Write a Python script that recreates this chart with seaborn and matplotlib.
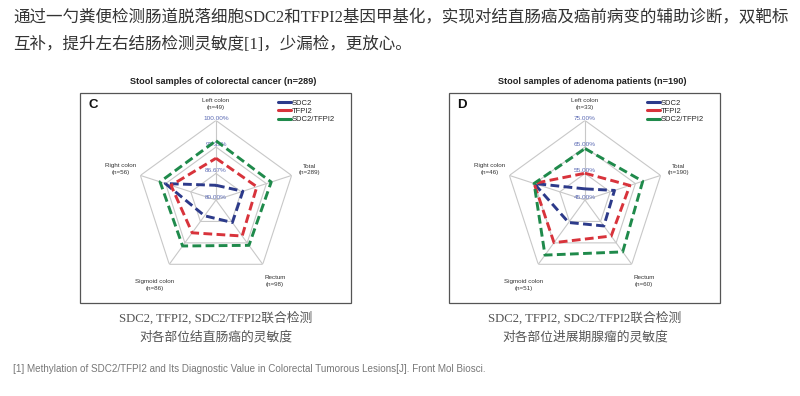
import numpy as np
import pandas as pd
import matplotlib.pyplot as plt
import seaborn as sns
from matplotlib.lines import Line2D
from matplotlib.patches import Rectangle
from matplotlib.transforms import offset_copy

sns.set_theme(style="white")
plt.rcParams['font.family'] = ['Liberation Sans', 'Noto Sans CJK SC']

# sites, clockwise from the top
sites = ["Left colon", "Total", "Rectum", "Sigmoid colon", "Right colon"]
crc_n = [49, 289, 98, 86, 56]
adn_n = [33, 190, 60, 51, 46]
series = ["SDC2", "TFPI2", "SDC2/TFPI2"]

# sensitivity (%)
crc_sdc2 = [83.7, 87.1, 87.0, 84.9, 93.4]
crc_tfpi2 = [90.5, 90.8, 91.2, 90.2, 91.9]
crc_both = [94.9, 94.6, 94.1, 94.3, 94.8]

adn_sdc2 = [49.2, 56.7, 57.1, 55.5, 65.2]
adn_tfpi2 = [55.1, 62.8, 61.8, 64.9, 65.2]
adn_both = [64.4, 67.9, 69.2, 70.7, 65.2]

crc_ticks = [80.00, 86.67, 93.33, 100.00]
adn_ticks = [45.00, 55.00, 65.00, 75.00]

colors = {"SDC2": "#2c3a8a", "TFPI2": "#d8333b", "SDC2/TFPI2": "#1f8a4b"}
dashes = {s: (3.0, 1.5) for s in series}
label_r = [1.21, 1.24, 1.26, 1.32, 1.26]

W, H = 800, 396
fig = plt.figure(figsize=(8, 3.96), dpi=100)
fig.patch.set_facecolor("white")


def radar(cx, ticks, vals, counts, title, letter, box_x):
    R = 79.5
    cy = 200
    ax = fig.add_axes([(cx - R) / W, 1 - (cy + R) / H, 2 * R / W, 2 * R / H], projection="polar")
    ax.set_theta_offset(np.pi / 2)
    ax.set_theta_direction(-1)
    ax.patch.set_alpha(0)
    lo, hi = ticks[0], ticks[-1]
    theta = np.deg2rad(np.arange(5) * 72.0)
    tc = np.append(theta, theta[0])

    # pentagon grid
    for t in ticks[1:]:
        ax.plot(tc, [t] * 6, color="#c8c8c8", lw=0.8, zorder=1)
    for th in theta:
        ax.plot([th, th], [lo, hi], color="#c8c8c8", lw=0.8, zorder=1)

    rows = []
    for s, v in zip(series, vals):
        vv = list(v) + [v[0]]
        for k in range(6):
            rows.append({"theta": tc[k], "value": vv[k], "series": s})
    df = pd.DataFrame(rows)
    sns.lineplot(data=df, x="theta", y="value", hue="series", style="series",
                 palette=colors, dashes=dashes, sort=False, estimator=None,
                 lw=2.1, legend=False, ax=ax, zorder=3)

    ax.set_ylim(lo, hi)
    ax.set_xlabel("")
    ax.set_ylabel("")
    ax.set_xticks([])
    ax.set_yticks([])
    ax.grid(False)
    ax.spines["polar"].set_visible(False)

    tr = offset_copy(ax.transData, fig=fig, y=2.5, units="dots")
    for t in ticks:
        ax.text(0, t, f"{t:.2f}%", transform=tr, ha="center", va="center",
                fontsize=4.6, color="#5a69b3", zorder=2)

    for th, name, n, f in zip(theta, sites, counts, label_r):
        ax.text(th, lo + (hi - lo) * f, f"{name}\n(n={n})", ha="center", va="center",
                fontsize=4.5, color="#333333", linespacing=1.35)

    fig.add_artist(Rectangle((box_x / W, 1 - 303 / H), 271 / W, 210 / H,
                             transform=fig.transFigure, fill=False,
                             ec="#555555", lw=0.9))
    fig.text((box_x + 143) / W, 1 - 82 / H, title, ha="center", va="center",
             fontsize=6.6, weight="bold", color="#222222")
    fig.text((box_x + 13) / W, 1 - 105 / H, letter, ha="center", va="center",
             fontsize=9.5, weight="bold", color="#111111")

    handles = [Line2D([], [], color=colors[s], lw=2.2) for s in series]
    fig.legend(handles, series, loc="upper left",
               bbox_to_anchor=((box_x + 198) / W, 1 - 99.5 / H),
               frameon=False, fontsize=5.5, handlelength=1.7, handletextpad=0.1,
               labelspacing=0.12, borderpad=0, borderaxespad=0)


radar(216, crc_ticks, [crc_sdc2, crc_tfpi2, crc_both], crc_n,
      "Stool samples of colorectal cancer (n=289)", "C", 80)
radar(585, adn_ticks, [adn_sdc2, adn_tfpi2, adn_both], adn_n,
      "Stool samples of adenoma patients (n=190)", "D", 449)

# surrounding article text
serif_cjk = ["Liberation Serif", "Noto Sans CJK SC"]
fig.text(13 / W, 1 - 18 / H,
         "通过一勺粪便检测肠道脱落细胞SDC2和TFPI2基因甲基化，实现对结直肠癌及癌前病变的辅助诊断，双靶标",
         ha="left", va="center", fontsize=11.9, color="#333333", family=serif_cjk)
fig.text(13 / W, 1 - 45 / H, "互补，提升左右结肠检测灵敏度[1]，少漏检，更放心。",
         ha="left", va="center", fontsize=11.9, color="#333333", family=serif_cjk)

for cx, l2 in [(216, "对各部位结直肠癌的灵敏度"), (585, "对各部位进展期腺瘤的灵敏度")]:
    fig.text(cx / W, 1 - 318 / H, "SDC2, TFPI2, SDC2/TFPI2联合检测", ha="center", va="center",
             fontsize=9.2, color="#555555", family=serif_cjk)
    fig.text(cx / W, 1 - 337 / H, l2, ha="center", va="center",
             fontsize=9.2, color="#555555", family=serif_cjk)

fig.text(13 / W, 1 - 369 / H,
         "[1] Methylation of SDC2/TFPI2 and Its Diagnostic Value in Colorectal Tumorous Lesions[J]. Front Mol Biosci.",
         ha="left", va="center", fontsize=7.1, color="#777777",
         family=["Liberation Sans Narrow", "Liberation Sans"])

fig.savefig("out.png", dpi=100, facecolor="white")
